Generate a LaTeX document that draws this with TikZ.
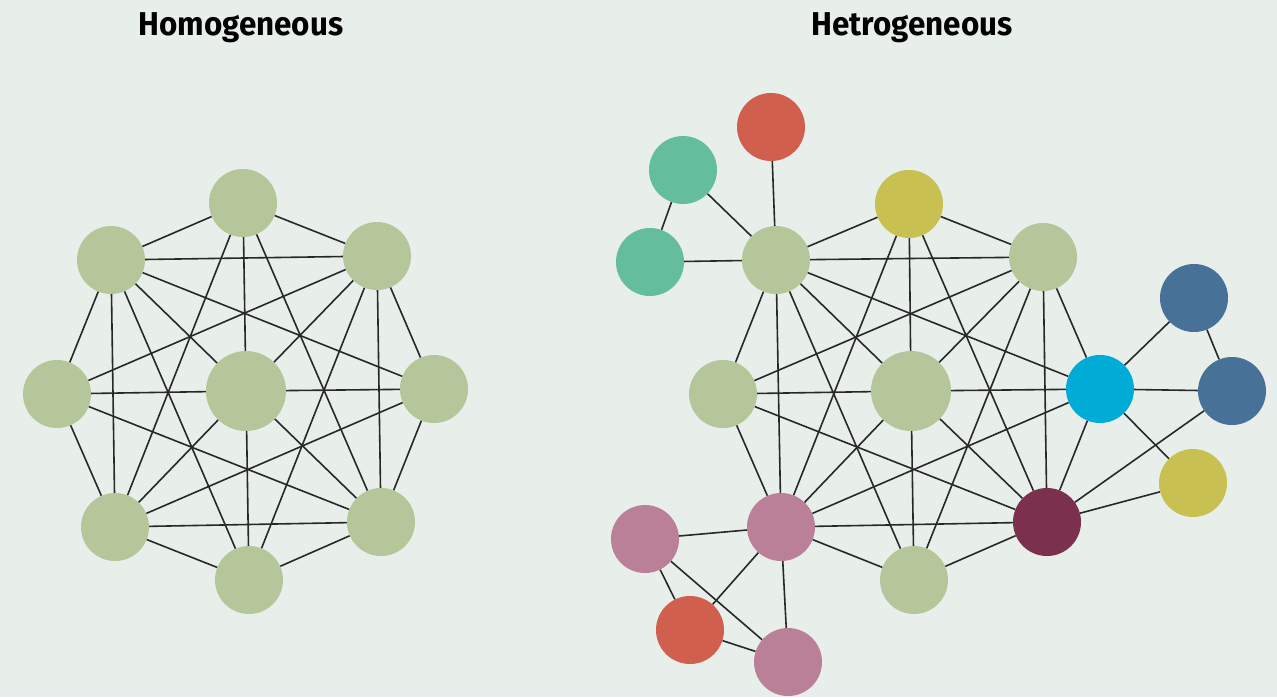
\documentclass[tikz,border=0pt]{standalone}
\usepackage{fontspec}
\setmainfont{Fira Sans}
\definecolor{bg}{RGB}{232,238,234}
\definecolor{sage}{RGB}{181,198,155}
\definecolor{teal}{RGB}{101,190,155}
\definecolor{tomato}{RGB}{208,95,78}
\definecolor{mustard}{RGB}{200,192,80}
\definecolor{steel}{RGB}{72,113,152}
\definecolor{sky}{RGB}{0,172,214}
\definecolor{wine}{RGB}{123,48,77}
\definecolor{rose}{RGB}{186,128,152}
\definecolor{edgec}{RGB}{40,40,40}
\tikzset{
  dot/.style={circle, fill=#1, draw=none, minimum size=68pt, inner sep=0pt},
  hub/.style={circle, fill=#1, draw=none, minimum size=80pt, inner sep=0pt},
  link/.style={draw=edgec, line width=1.6pt},
  heading/.style={font=\fontsize{33}{36}\selectfont\bfseries, anchor=base, inner sep=0pt}
}
\begin{document}
\begin{tikzpicture}[x=1pt,y=-1pt]
\fill[bg] (0,0) rectangle (1277,697);
\useasboundingbox (0,0) rectangle (1277,697);

% titles
\node[heading] (t1) at (241,35) {\scalebox{0.95}[1]{Homogeneous}};
\node[heading] (t2) at (912,35) {\scalebox{0.95}[1]{Hetrogeneous}};

% ---------- homogeneous network ----------
\node[dot=sage] (hT)  at (243,203) {};
\node[dot=sage] (hUL) at (111,260) {};
\node[dot=sage] (hUR) at (377,256) {};
\node[dot=sage] (hL)  at (57,394) {};
\node[hub=sage] (hC)  at (246,391) {};
\node[dot=sage] (hR)  at (434,389) {};
\node[dot=sage] (hLL) at (115,527) {};
\node[dot=sage] (hLR) at (381,522) {};
\node[dot=sage] (hB)  at (249,580) {};

% outer ring
\foreach \a/\b in {hT/hUR,hUR/hR,hR/hLR,hLR/hB,hB/hLL,hLL/hL,hL/hUL,hUL/hT}
  \draw[link] (\a) -- (\b);
% skip-three chords
\foreach \a/\b in {hT/hLR,hT/hLL,hUR/hB,hUR/hL,hR/hLL,hR/hUL,hLR/hL,hB/hUL}
  \draw[link] (\a) -- (\b);
% square of the corner nodes
\foreach \a/\b in {hUL/hUR,hUR/hLR,hLR/hLL,hLL/hUL}
  \draw[link] (\a) -- (\b);
% spokes to the hub
\foreach \a in {hT,hUR,hR,hLR,hB,hLL,hL,hUL}
  \draw[link] (hC) -- (\a);

% ---------- heterogeneous network ----------
\node[dot=tomato]  (r1) at (771,127) {};
\node[dot=teal]    (t1n) at (683,170) {};
\node[dot=teal]    (t2n) at (650,262) {};
\node[dot=sage]    (gA) at (776,260) {};
\node[dot=mustard] (y1) at (909,204) {};
\node[dot=sage]    (gB) at (1043,257) {};
\node[dot=steel]   (b1) at (1194,298) {};
\node[dot=steel]   (b2) at (1232,391) {};
\node[dot=sky]     (cy) at (1100,389) {};
\node[dot=sage]    (gC) at (723,394) {};
\node[hub=sage]    (gM) at (911,391) {};
\node[dot=mustard] (y2) at (1193,483) {};
\node[dot=wine]    (ma) at (1047,522) {};
\node[dot=rose]    (pC) at (781,527) {};
\node[dot=rose]    (pL) at (645,539) {};
\node[dot=tomato]  (rB) at (690,630) {};
\node[dot=rose]    (pB) at (788,662) {};
\node[dot=sage]    (gD) at (914,580) {};

\foreach \a/\b in {
  r1/gA, t1n/t2n, t1n/gA, t2n/gA,
  gA/y1, gA/gB, gA/cy, gA/gM, gA/pC, gA/gC, gA/gD,
  y1/gB, y1/gM, y1/pC, y1/ma,
  gB/gC, gB/gM, gB/gD, gB/ma, gB/cy,
  gC/gM, gC/pC, gC/ma,
  gM/pC, gM/cy, gM/ma, gM/gD,
  cy/pC, cy/b1, cy/b2, cy/y2, cy/ma,
  b1/b2, b2/ma, y2/ma,
  ma/gD, ma/pC, gD/pC,
  pC/pL, pC/rB, pC/pB,
  pL/rB, pL/pB, rB/pB}
  \draw[link] (\a) -- (\b);
\end{tikzpicture}
\end{document}
